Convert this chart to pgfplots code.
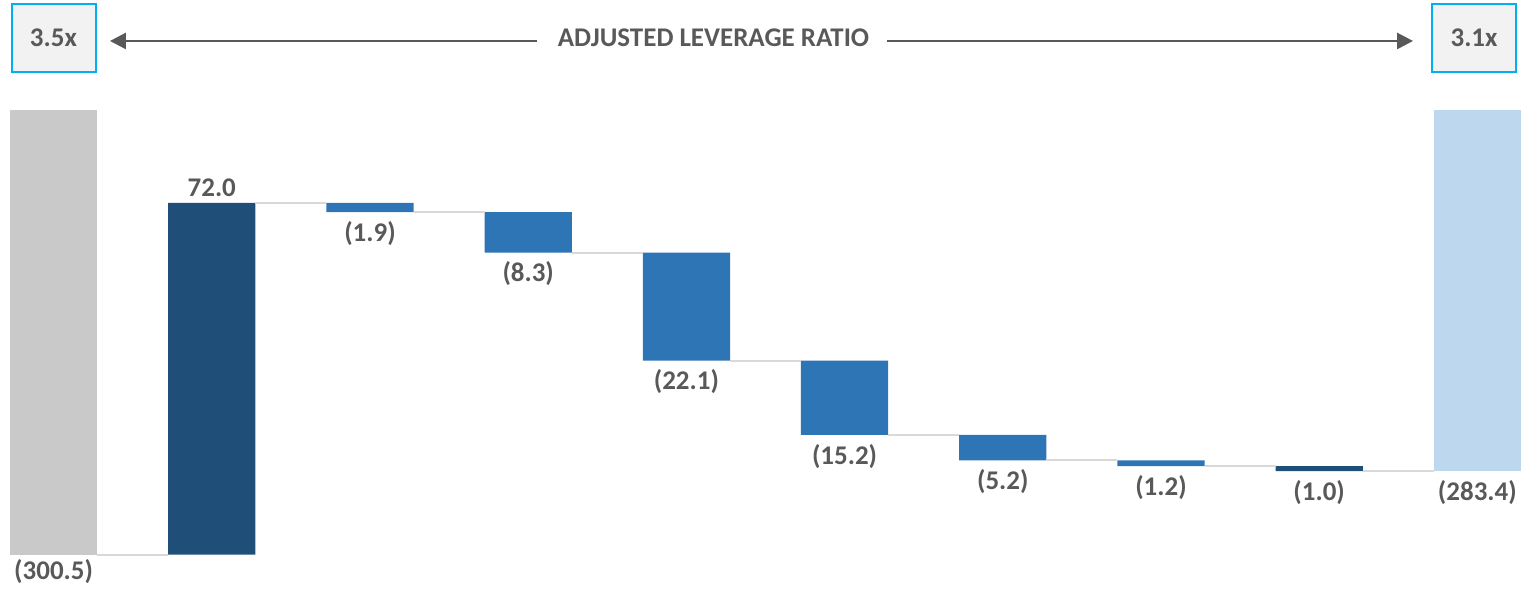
\documentclass[border=0pt]{standalone}
\usepackage{fontspec}
\setmainfont{Carlito}
\usepackage{pgfplots}
\pgfplotsset{compat=1.18}
\usepackage{pgfplotstable}
\usetikzlibrary{arrows.meta}
\definecolor{startgray}{HTML}{C9C9C9}
\definecolor{navy}{HTML}{1F4E79}
\definecolor{midblue}{HTML}{2E75B6}
\definecolor{lightblue}{HTML}{BDD7EE}
\definecolor{conn}{HTML}{D9D9D9}
\definecolor{txt}{HTML}{595959}
\definecolor{boxcyan}{HTML}{00B0F0}
\definecolor{boxfill}{HTML}{F2F2F2}

% bars: invisible top part, then visible part (negative height)
\pgfplotstableread{
x top gray navy blue light
0 -209.48 -91.02 0 0 0
1 -228.5 0 -72.0 0 0
2 -228.5 0 0 -1.9 0
3 -230.4 0 0 -8.3 0
4 -238.7 0 0 -22.1 0
5 -260.8 0 0 -15.2 0
6 -276.0 0 0 -5.2 0
7 -281.2 0 0 -1.2 0
8 -282.4 0 -1.0 0 0
9 -209.48 0 0 0 -73.92
}\bars

\pgfplotstableread{
x y
0.2757 -300.5
0.7243 -300.5
nan nan
1.2757 -228.5
1.7243 -228.5
nan nan
2.2757 -230.4
2.7243 -230.4
nan nan
3.2757 -238.7
3.7243 -238.7
nan nan
4.2757 -260.8
4.7243 -260.8
nan nan
5.2757 -276.0
5.7243 -276.0
nan nan
6.2757 -281.2
6.7243 -281.2
nan nan
7.2757 -282.4
7.7243 -282.4
nan nan
8.2757 -283.4
8.7243 -283.4
}\conns

\pgfplotstableread{
x y label
2 -230.4 (1.9)
3 -238.7 (8.3)
4 -260.8 (22.1)
5 -276.0 (15.2)
6 -281.2 (5.2)
7 -282.4 (1.2)
8 -283.4 (1.0)
9 -283.4 (283.4)
}\below

\pgfplotstableread{
x y label
1 -228.5 72.0
}\above

\pgfplotstableread{
x y label
0 -300.5 (300.5)
}\first

\newcommand{\lblfont}{\fontsize{27}{31}\selectfont\bfseries}

\pgfplotsset{wf/.style={
  scale only axis, width=1512pt, height=445pt,
  xmin=-0.2757, xmax=9.2757, ymin=-300.5, ymax=-209.48,
  axis lines=none, clip=false,
  at={(10pt,34pt)}, anchor=south west}}

\begin{document}
\begin{tikzpicture}[x=1pt,y=1pt]
\useasboundingbox (0,0) rectangle (1522,589);

\begin{axis}[wf, ybar stacked, bar width=87.3pt]
  \addplot[draw=none, fill=none] table[x=x, y=top] {\bars};
  \addplot[draw=none, fill=startgray] table[x=x, y=gray] {\bars};
  \addplot[draw=none, fill=navy] table[x=x, y=navy] {\bars};
  \addplot[draw=none, fill=midblue] table[x=x, y=blue] {\bars};
  \addplot[draw=none, fill=lightblue] table[x=x, y=light] {\bars};
\end{axis}

\begin{axis}[wf, unbounded coords=jump]
  \addplot[conn, line width=2pt, mark=none] table[x=x, y=y] {\conns};
  \addplot[draw=none, mark=none, nodes near coords, point meta=explicit symbolic,
    nodes near coords style={font=\lblfont, text=txt, inner sep=0pt, anchor=north, yshift=-9pt}]
    table[x=x, y=y, meta=label] {\below};
  \addplot[draw=none, mark=none, nodes near coords, point meta=explicit symbolic,
    nodes near coords style={font=\lblfont, text=txt, inner sep=0pt, anchor=base, yshift=6pt}]
    table[x=x, y=y, meta=label] {\above};
  \addplot[draw=none, mark=none, nodes near coords, point meta=explicit symbolic,
    nodes near coords style={font=\lblfont, text=txt, inner sep=0pt, anchor=north, yshift=-5pt}]
    table[x=x, y=y, meta=label] {\first};
\end{axis}

% header
\node[draw=boxcyan, line width=2pt, fill=boxfill, minimum width=84pt, minimum height=68pt, inner sep=0pt] at (54,551) {};
\node[draw=boxcyan, line width=2pt, fill=boxfill, minimum width=84pt, minimum height=68pt, inner sep=0pt] at (1475,551) {};
\node[anchor=base, text=txt, font=\lblfont, inner sep=0pt] at (53.5,542.3) {3.5x};
\node[anchor=base, text=txt, font=\lblfont, inner sep=0pt] at (1475,542.3) {3.1x};
\node[anchor=base, text=txt, font=\lblfont, inner sep=0pt] at (714,542.3) {ADJUSTED LEVERAGE RATIO};
\draw[txt, line width=2.5pt, -{Triangle[length=16pt,width=16pt]}] (537,548) -- (110,548);
\draw[txt, line width=2.5pt, -{Triangle[length=16pt,width=16pt]}] (888,548) -- (1414,548);
\end{tikzpicture}
\end{document}
